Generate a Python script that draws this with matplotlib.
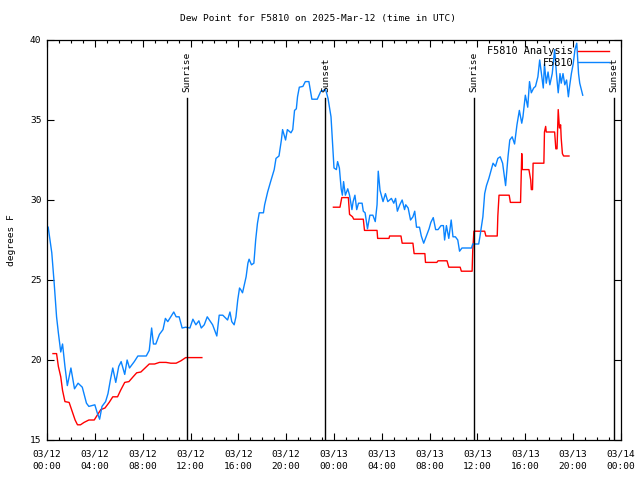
import numpy as np
import matplotlib
matplotlib.use("Agg")
import matplotlib.pyplot as plt
from matplotlib.ticker import MultipleLocator

# hours since 2025-03-12 00:00 UTC
obs_hours = [0.1,0.4,0.6,0.8,0.95,1.15,1.3,1.5,1.7,2.0,2.3,2.6,2.95,3.3,3.5,4.0,4.2,4.4,4.6,4.9,
    5.1,5.3,5.5,5.75,6.0,6.2,6.5,6.7,6.9,7.3,7.6,8.3,8.55,8.75,8.9,9.1,9.4,9.7,9.9,10.1,
    10.35,10.6,10.8,11.05,11.3,11.6,11.95,12.2,12.45,12.7,12.9,13.15,13.4,13.85,14.2,14.4,14.7,15.1,15.3,15.45,
    15.65,15.8,15.95,16.1,16.2,16.35,16.5,16.65,16.8,16.9,17.1,17.3,17.45,17.6,17.75,18.1,18.2,18.45,18.7,19.0,
    19.15,19.4,19.6,19.7,19.95,20.1,20.4,20.55,20.7,20.85,20.95,21.1,21.4,21.6,21.9,22.15,22.6,22.9,23.3,23.5,
    23.75,23.9,24.0,24.2,24.3,24.45,24.6,24.7,24.8,24.95,25.15,25.3,25.5,25.6,25.75,25.9,26.05,26.35,26.45,26.6,
    26.8,27.0,27.25,27.45,27.6,27.7,27.85,28.1,28.3,28.5,28.8,29.0,29.15,29.3,29.5,29.7,29.9,30.0,30.2,30.4,
    30.6,30.75,30.9,31.15,31.3,31.5,31.7,31.95,32.1,32.3,32.5,32.7,32.95,33.15,33.25,33.4,33.6,33.8,33.95,34.15,
    34.35,34.5,34.7,35.5,35.6,36.1,36.2,36.45,36.6,36.75,36.95,37.15,37.3,37.5,37.7,37.9,38.1,38.35,38.55,38.7,
    38.9,39.1,39.3,39.5,39.7,39.8,40.0,40.2,40.35,40.5,40.7,40.85,41.05,41.2,41.35,41.5,41.6,41.75,41.9,42.05,
    42.25,42.45,42.6,42.75,42.9,43.0,43.15,43.3,43.45,43.6,43.7,43.85,44.0,44.15,44.3,44.45,44.55,44.8]
obs_dewpt = [28.3,26.7,24.8,22.7,21.7,20.5,21.0,19.6,18.4,19.5,18.2,18.55,18.3,17.3,17.1,17.2,16.7,16.3,17.1,17.4,
    17.9,18.75,19.5,18.6,19.6,19.9,19.1,20.0,19.5,19.9,20.25,20.25,20.6,22.0,21.0,21.0,21.6,21.9,22.6,22.4,
    22.7,23.0,22.7,22.7,22.0,22.05,22.0,22.55,22.2,22.45,22.0,22.2,22.7,22.2,21.5,22.8,22.8,22.5,23.0,22.4,
    22.2,22.7,23.75,24.5,24.4,24.2,24.7,25.2,26.05,26.3,25.95,26.05,27.5,28.55,29.2,29.2,29.7,30.5,31.15,31.9,
    32.6,32.75,33.75,34.4,33.75,34.4,34.2,34.4,35.6,35.7,36.45,37.05,37.1,37.4,37.4,36.3,36.3,36.8,36.9,36.35,
    35.2,33.3,32.0,31.9,32.4,32.0,30.7,30.3,31.15,30.3,30.7,30.3,29.4,29.9,30.3,29.4,29.8,29.8,29.3,29.2,
    28.2,29.05,29.05,28.65,29.7,31.8,30.6,29.9,30.4,29.9,30.1,29.8,30.1,29.3,29.7,30.0,29.4,29.7,29.5,28.75,
    28.95,29.3,28.3,28.3,27.75,27.3,27.7,28.2,28.6,28.9,28.15,28.15,28.4,28.4,27.5,28.4,27.6,28.75,27.7,27.7,
    27.5,26.8,27.0,27.0,27.25,27.25,27.7,28.95,30.4,30.9,31.35,31.9,32.3,32.1,32.6,32.7,32.3,30.9,32.7,33.75,
    33.95,33.5,34.7,35.6,34.8,35.2,36.55,35.8,37.4,36.7,37.0,37.1,37.7,38.75,37.9,37.0,38.5,37.3,38.0,37.2,
    37.9,39.4,37.9,36.7,37.9,37.3,37.9,37.2,37.5,36.45,37.1,37.9,38.5,39.4,39.8,37.9,37.3,36.55]

ana_hours = [0.5,0.8,0.95,1.15,1.3,1.5,1.85,2.1,2.35,2.55,2.8,3.1,3.5,3.95,4.2,4.5,4.85,5.2,5.5,5.9,
    6.15,6.5,6.85,7.2,7.5,7.85,8.2,8.55,9.0,9.4,9.95,10.35,10.8,11.2,11.6,12.95,18.0,
    23.95,24.5,24.65,25.2,25.3,25.55,25.65,26.45,26.55,27.6,27.65,28.6,28.65,29.6,29.7,30.6,30.7,31.6,31.65,
    32.6,32.7,33.45,33.6,34.55,34.65,35.55,35.6,35.7,36.6,36.7,37.65,37.7,37.8,38.65,38.75,39.6,39.7,39.75,
    40.3,40.45,40.5,40.6,40.65,41.55,41.6,41.7,41.75,42.45,42.55,42.65,42.75,42.85,42.95,43.0,43.1,43.2,43.65]
ana_dewpt = [20.4,20.4,19.6,18.95,18.1,17.4,17.35,16.8,16.25,15.95,15.95,16.1,16.25,16.25,16.55,16.9,17.0,17.35,17.7,17.7,
    18.1,18.6,18.65,18.95,19.2,19.25,19.5,19.75,19.75,19.85,19.85,19.8,19.8,19.95,20.15,20.15,np.nan,
    29.55,29.55,30.15,30.15,29.1,28.95,28.8,28.8,28.1,28.1,27.6,27.6,27.75,27.75,27.3,27.3,26.65,26.65,26.1,
    26.1,26.2,26.2,25.8,25.8,25.55,25.55,26.8,28.05,28.05,27.75,27.75,29.0,30.3,30.3,29.85,29.85,32.9,31.9,
    31.9,31.25,30.65,30.65,32.3,32.3,34.25,34.6,34.25,34.25,33.2,33.2,35.65,34.5,34.7,33.85,32.9,32.75,32.75]

event_hours = [11.67, 23.28, 35.70, 47.43]
event_labels = ["Sunrise", "Sunset", "Sunrise", "Sunset"]

tick_hours = list(range(0, 49, 4))
tick_labels = ["03/12\n00:00", "03/12\n04:00", "03/12\n08:00", "03/12\n12:00", "03/12\n16:00",
               "03/12\n20:00", "03/13\n00:00", "03/13\n04:00", "03/13\n08:00", "03/13\n12:00",
               "03/13\n16:00", "03/13\n20:00", "03/14\n00:00"]

plt.rcParams['font.family'] = ['DejaVu Sans Mono']
fs = 6.8

fig = plt.figure(figsize=(6.4, 4.8), dpi=100)
ax = fig.add_axes([47/640, 1-440/480, 574/640, 400/480])

ax.plot(ana_hours, ana_dewpt, color='#ff0000', lw=1.0, label='F5810 Analysis')
ax.plot(obs_hours, obs_dewpt, color='#0a84ff', lw=1.0, label='F5810')

for h, lab in zip(event_hours, event_labels):
    ax.plot([h, h], [15, 36.4], color='black', lw=1.0)
    ax.text(h, 36.75, lab, rotation=90, ha='center', va='bottom', fontsize=fs)

ax.set_xlim(0, 48)
ax.set_ylim(15, 40)
ax.set_xticks(tick_hours)
ax.set_xticklabels(tick_labels, fontsize=fs, linespacing=1.45)
ax.xaxis.set_minor_locator(MultipleLocator(1))
ax.set_yticks([15, 20, 25, 30, 35, 40])
ax.tick_params(axis='both', which='both', direction='in', top=True, right=True, labelsize=fs, width=0.8)
ax.tick_params(axis='both', which='major', length=5, pad=4)
ax.tick_params(axis='x', which='major', pad=7)
ax.tick_params(axis='both', which='minor', length=2.5)
for s in ax.spines.values():
    s.set_linewidth(0.9)

ax.set_ylabel('degrees F', fontsize=fs, labelpad=10)
fig.text(0.497, 1 - 19/480, 'Dew Point for F5810 on 2025-Mar-12 (time in UTC)', fontsize=fs,
         ha='center', va='center')

leg = ax.legend(loc='upper right', bbox_to_anchor=(0.99, 1.0), frameon=False, markerfirst=False,
                fontsize=fs+0.6, handlelength=3.0, handletextpad=0.5, labelspacing=0.15, borderaxespad=0.2)

fig.savefig('out.png', dpi=100)
